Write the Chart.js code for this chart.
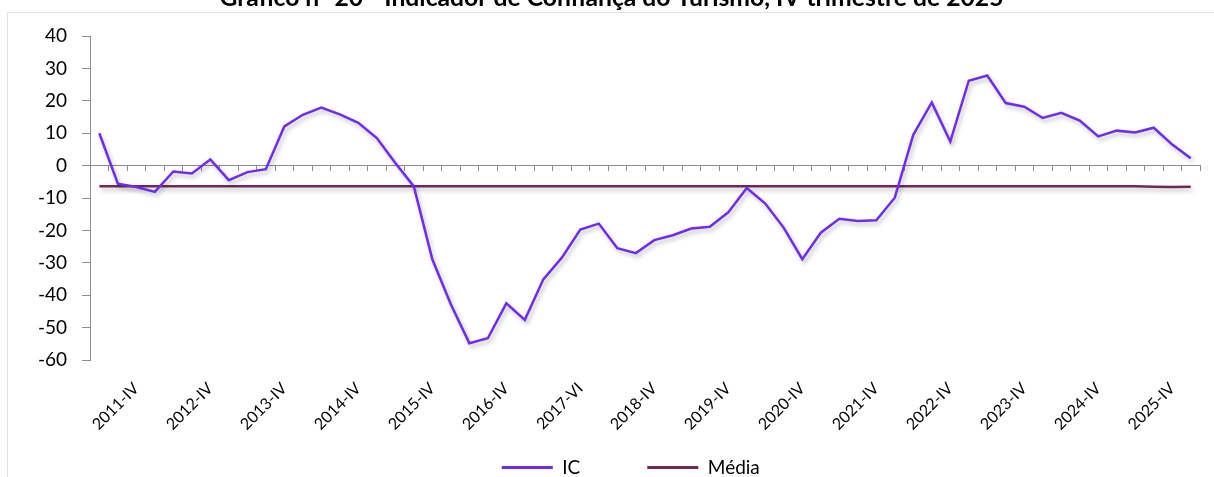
<!DOCTYPE html>
<html>
<head>
<meta charset="utf-8">
<script src="https://cdn.jsdelivr.net/npm/chart.js@4.4.1/dist/chart.umd.min.js"></script>
<style>
	html, body { margin: 0; padding: 0; background: #fff; overflow: hidden; }
	#frame {
		position: absolute; left: 7px; top: 12px; width: 1400px; height: 600px;
		border-top: 1px solid #e4e4e4; border-left: 1px solid #e4e4e4;
	}
	#turismo-chart { position: absolute; left: 0; top: 0; }
</style>
</head>
<body>
<div id="frame"></div>
<canvas id="turismo-chart" width="1214" height="477"></canvas>
<script>
// Quarterly categories, only the year labels shown on the axis are filled in
var categories = [
	"", "", "2011-IV", "",
	"", "", "2012-IV", "",
	"", "", "2013-IV", "",
	"", "", "2014-IV", "",
	"", "", "2015-IV", "",
	"", "", "2016-IV", "",
	"", "", "2017-VI", "",
	"", "", "2018-IV", "",
	"", "", "2019-IV", "",
	"", "", "2020-IV", "",
	"", "", "2021-IV", "",
	"", "", "2022-IV", "",
	"", "", "2023-IV", "",
	"", "", "2024-IV", "",
	"", "", "2025-IV", "",
];

// Indicador de Confiança (IC)
var icValues = [
	10.0, -5.6, -6.6, -8.1, -1.8, -2.4, 1.9, -4.5, -2.0, -1.1,
	12.1, 15.7, 17.9, 15.8, 13.2, 8.5, 0.8, -6.4, -28.9, -42.8,
	-54.8, -53.3, -42.5, -47.6, -35.1, -28.4, -19.7, -17.9, -25.5, -27.0,
	-23.0, -21.5, -19.4, -18.9, -14.4, -6.9, -11.7, -19.2, -28.9, -20.7,
	-16.4, -17.1, -16.9, -9.9, 9.5, 19.5, 7.4, 26.2, 27.8, 19.3,
	18.2, 14.7, 16.3, 13.9, 9.0, 10.8, 10.2, 11.7, 6.5, 2.3,
];

// Média
var mediaValues = [
	-6.4, -6.4, -6.4, -6.4, -6.4, -6.4, -6.4, -6.4, -6.4, -6.4,
	-6.4, -6.4, -6.4, -6.4, -6.4, -6.4, -6.4, -6.4, -6.4, -6.4,
	-6.4, -6.4, -6.4, -6.4, -6.4, -6.4, -6.4, -6.4, -6.4, -6.4,
	-6.4, -6.4, -6.4, -6.4, -6.4, -6.4, -6.4, -6.4, -6.4, -6.4,
	-6.4, -6.4, -6.4, -6.4, -6.4, -6.4, -6.4, -6.4, -6.4, -6.4,
	-6.4, -6.4, -6.4, -6.4, -6.4, -6.4, -6.4, -6.5, -6.6, -6.5,
];

var titleText = "Gráfico n- 20 - Indicador de Confiança do Turismo, IV trimestre de 2025";
var icColor = "#6f2cec";
var mediaColor = "#6e2a55";
var axisColor = "#8c8c8c";
var fontFamily = "Lato, 'Open Sans', sans-serif";

// soft drop shadow under the lines, like the office chart
var lineShadow = {
	id: "lineShadow",
	beforeDatasetDraw: function (chart) {
		var ctx = chart.ctx;
		ctx.save();
		ctx.shadowColor = "rgba(0,0,0,0.25)";
		ctx.shadowBlur = 4;
		ctx.shadowOffsetX = 2;
		ctx.shadowOffsetY = 3;
	},
	afterDatasetDraw: function (chart) {
		chart.ctx.restore();
	},
};

var ctx = document.getElementById("turismo-chart").getContext("2d");

new Chart(ctx, {
	type: "line",
	data: {
		labels: categories,
		datasets: [
			{
				label: "IC",
				data: icValues,
				xAxisID: "x",
				borderColor: icColor,
				backgroundColor: icColor,
				borderWidth: 2.5,
				pointRadius: 0,
				tension: 0,
				fill: false,
			},
			{
				label: "Média",
				data: mediaValues,
				xAxisID: "x",
				borderColor: mediaColor,
				backgroundColor: mediaColor,
				borderWidth: 2.5,
				pointRadius: 0,
				tension: 0,
				fill: false,
			},
		],
	},
	options: {
		responsive: false,
		devicePixelRatio: 1,
		animation: false,
		layout: { padding: { left: 23, right: 14, top: 0, bottom: -10 } },
		plugins: {
			title: {
				display: true,
				text: titleText,
				color: "#000",
				font: { family: fontFamily, size: 24.7, weight: "bold" },
				padding: { top: -16.4, bottom: 22.8 },
			},
			legend: {
				display: true,
				position: "bottom",
				fullSize: false,
				labels: {
					color: "#000",
					font: { family: fontFamily, size: 19 },
					boxWidth: 51,
					boxHeight: 3,
					padding: 10,
					generateLabels: function (chart) {
						var items = Chart.defaults.plugins.legend.labels.generateLabels(chart);
						items.forEach(function (item) {
							item.lineWidth = 0;
							// keep the wide gap between the two entries and the legend's offset
							if (item.text === "IC") item.text = "IC\u2003\u2003\u2003\u2003";
							else item.text = item.text + "\u2003\u2003";
						});
						return items;
					},
				},
			},
			tooltip: { enabled: false },
		},
		scales: {
			x: {
				type: "category",
				position: "bottom",
				offset: true,
				grid: { display: false, drawTicks: false },
				border: { display: false },
				ticks: {
					autoSkip: false,
					maxRotation: 45,
					minRotation: 45,
					padding: 19,
					color: "#000",
					font: { family: fontFamily, size: 16 },
				},
				afterFit: function (scale) {
					scale.height = 88;
					scale.paddingLeft = 0;
					scale.paddingRight = 0;
				},
			},
			// axis line through zero with the quarter tick marks
			x2: {
				type: "category",
				axis: "x",
				position: { y: 0 },
				offset: true,
				grid: {
					display: true,
					drawOnChartArea: false,
					offset: true,
					tickLength: 5,
					color: axisColor,
				},
				border: { display: true, color: axisColor, width: 1 },
				ticks: { display: false },
			},
			y: {
				min: -60,
				max: 40,
				ticks: {
					stepSize: 10,
					padding: 15,
					color: "#000",
					font: { family: fontFamily, size: 19 },
				},
				grid: {
					display: true,
					drawOnChartArea: false,
					tickLength: 8,
					color: axisColor,
				},
				border: { display: true, color: axisColor, width: 1 },
			},
		},
	},
	plugins: [lineShadow],
});
</script>
</body>
</html>
